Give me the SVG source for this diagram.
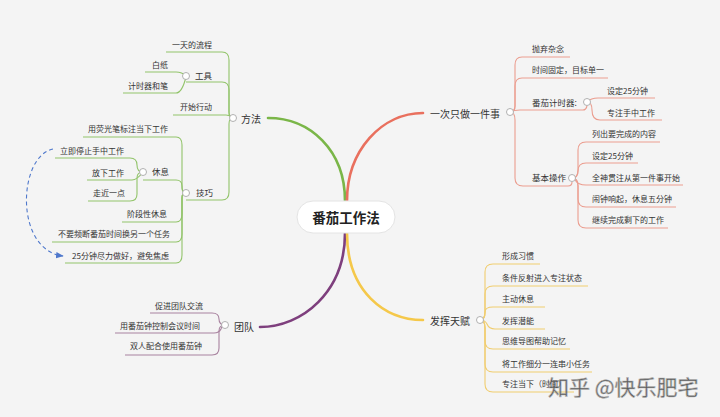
<svg xmlns="http://www.w3.org/2000/svg" width="720" height="417" viewBox="0 0 720 417">
<defs>
<style>
text{font-family:"Noto Sans CJK SC","Noto Sans",sans-serif;fill:#333;}
.t{font-size:8px;dominant-baseline:central;}
.t2{font-size:8.5px;dominant-baseline:central;}
.m{font-size:10px;dominant-baseline:central;}
.c{font-size:13.5px;font-weight:bold;dominant-baseline:central;text-anchor:middle;fill:#222;}
.g,.r,.y,.p{fill:none;stroke-width:1.1;}
.g{stroke:#92c46a;}
.r{stroke:#eb9d8f;}
.y{stroke:#f0cd6f;}
.p{stroke:#a8829f;}
.main{fill:none;stroke-width:2.6;stroke-linecap:round;}
.k{fill:#fff;stroke:#a8a8a8;stroke-width:0.9;}
</style>
<marker id="ah" viewBox="0 0 10 10" refX="9" refY="5" markerWidth="7" markerHeight="7" orient="auto">
<path d="M0 1 L10 5 L0 9 Z" fill="#4f78cc"/>
</marker>
</defs>
<rect width="720" height="417" fill="#f4f4f4"/>

<g id="connectors">
<path class="main" stroke="#7ab648" d="M345 201 C345 150 310 118 268 118"/>
<path class="main" stroke="#e9705e" d="M347 201 C347 150 382 113 423 113"/>
<path class="main" stroke="#7e3f7d" d="M345 233 C345 292 302 327 260 327"/>
<path class="main" stroke="#f5c84a" d="M347 233 C347 292 385 320 423 320"/>

<path class="g" d="M166 52 H222 Q229 52 229 60 V112 Q229 118 233 118"/>
<path class="g" d="M186 82 H222 Q229 82 229 90 V112 Q229 118 233 118"/>
<path class="g" d="M145 72 H176 Q182 72 186 76"/>
<path class="g" d="M123 93 H176 Q182 93 186 77"/>
<path class="g" d="M173 115 H226 Q230 115 233 118"/>
<path class="g" d="M186 200 H222 Q229 200 229 192 V124 Q229 118 233 118"/>
<path class="g" d="M83 137 H176 Q182 137 182 145 V188 Q182 193 186 193"/>
<path class="g" d="M143 180 H176 Q182 180 182 186 Q182 193 186 193"/>
<path class="g" d="M55 158 H130 Q137 158 137 165 Q137 172 143 172"/>
<path class="g" d="M87 180 H132 Q137 180 143 172"/>
<path class="g" d="M88 201 H130 Q137 201 137 194 V178 Q137 172 143 172"/>
<path class="g" d="M122 222 H176 Q182 222 182 214 V198 Q182 193 186 193"/>
<path class="g" d="M52 242 H176 Q182 242 182 234 V198 Q182 193 186 193"/>
<path class="g" d="M65 263 H176 Q182 263 182 255 V198 Q182 193 186 193"/>
<path fill="none" stroke="#4f78cc" stroke-width="1.1" stroke-dasharray="4 3" marker-end="url(#ah)" d="M53 149 C18 156 14 250 63 256"/>

<path class="r" d="M510 112 Q515 112 515 106 V65 Q515 57 522 57 H570"/>
<path class="r" d="M510 112 Q515 112 515 106 V86 Q515 78 522 78 H608"/>
<path class="r" d="M510 112 Q514 110 520 110 H583 Q586 110 587 106"/>
<path class="r" d="M587 102 Q591 98 598 98 H655"/>
<path class="r" d="M587 102 Q592 102 592 110 Q592 120 600 120 H662"/>
<path class="r" d="M510 112 Q515 112 515 120 V178 Q515 186 523 186 H568 Q572 186 572 182"/>
<path class="r" d="M572 178 Q578 178 578 170 V150 Q578 142 586 142 H660"/>
<path class="r" d="M572 178 Q578 178 578 171 Q578 163 586 163 H638"/>
<path class="r" d="M575 180 Q578 185 586 185 H683"/>
<path class="r" d="M572 178 Q578 178 578 186 V199 Q578 207 586 207 H676"/>
<path class="r" d="M572 178 Q578 178 578 186 V220 Q578 228 586 228 H668"/>

<path class="y" d="M480 320 Q485 320 485 312 V272 Q485 264 493 264 H540"/>
<path class="y" d="M480 320 Q485 320 485 312 V294 Q485 286 493 286 H588"/>
<path class="y" d="M480 320 Q485 320 485 312 Q485 307 493 307 H545"/>
<path class="y" d="M480 320 Q485 320 487 324 Q489 329 495 329 H545"/>
<path class="y" d="M480 320 Q485 320 485 328 V341 Q485 349 493 349 H570"/>
<path class="y" d="M480 320 Q485 320 485 328 V364 Q485 372 493 372 H592"/>
<path class="y" d="M480 320 Q485 320 485 328 V384 Q485 392 493 392 H574"/>

<path class="p" d="M150 313 H212 Q219 313 219 319 Q219 325 225 325"/>
<path class="p" d="M115 333 H214 Q219 333 221 329 Q222 325 225 325"/>
<path class="p" d="M125 355 H212 Q219 355 219 348 V331 Q219 325 225 325"/>
</g>

<g id="center">
<rect x="297" y="201" width="98" height="32" rx="16" fill="#fff" stroke="#e4e4e4"/>
<text class="c" x="346" y="217">番茄工作法</text>
</g>

<g id="fangfa">
<text class="m" x="241" y="118">方法</text>
<circle class="k" cx="233" cy="118" r="3.5"/>
</g>
<g id="n-liucheng"><text class="t" x="172" y="44">一天的流程</text></g>
<g id="n-gongju"><text class="t2" x="195" y="75">工具</text><circle class="k" cx="186" cy="76" r="3.5"/></g>
<g id="n-baizhi"><text class="t" x="152" y="64">白纸</text></g>
<g id="n-jishiqi"><text class="t" x="128" y="85">计时器和笔</text></g>
<g id="n-kaishi"><text class="t" x="180" y="106">开始行动</text></g>
<g id="n-jiqiao"><text class="t2" x="196" y="192">技巧</text><circle class="k" cx="186" cy="193" r="3.5"/></g>
<g id="n-yingguang"><text class="t" x="88" y="128">用荧光笔标注当下工作</text></g>
<g id="n-xiuxi"><text class="t2" x="152" y="171">休息</text><circle class="k" cx="143" cy="172" r="3.5"/></g>
<g id="n-liji"><text class="t" x="60" y="150">立即停止手中工作</text></g>
<g id="n-fangxia"><text class="t" x="92" y="172">放下工作</text></g>
<g id="n-zoujin"><text class="t" x="93" y="192">走近一点</text></g>
<g id="n-jieduan"><text class="t" x="127" y="213">阶段性休息</text></g>
<g id="n-buyao"><text class="t" x="58" y="233">不要频断番茄时间换另一个任务</text></g>
<g id="n-25fen"><text class="t" x="72" y="255">25分钟尽力做好，避免焦虑</text></g>

<g id="yici">
<text class="m" x="430" y="113">一次只做一件事</text>
<circle class="k" cx="510" cy="112" r="3.5"/>
</g>
<g id="n-paoqi"><text class="t" x="532" y="48">抛弃杂念</text></g>
<g id="n-shijian"><text class="t" x="532" y="69">时间固定，目标单一</text></g>
<g id="n-fanqie"><text class="t2" x="532" y="102">番茄计时器:</text><circle class="k" cx="587" cy="102" r="3.5"/></g>
<g id="n-sheding1"><text class="t" x="607" y="90">设定25分钟</text></g>
<g id="n-zhuanzhu"><text class="t" x="607" y="112">专注手中工作</text></g>
<g id="n-jiben"><text class="t2" x="532" y="177">基本操作</text><circle class="k" cx="572" cy="178" r="3.5"/></g>
<g id="n-liechu"><text class="t" x="592" y="133">列出要完成的内容</text></g>
<g id="n-sheding2"><text class="t" x="592" y="155">设定25分钟</text></g>
<g id="n-quanshen"><text class="t" x="592" y="177">全神贯注从第一件事开始</text></g>
<g id="n-naozhong"><text class="t" x="592" y="198">闹钟响起，休息五分钟</text></g>
<g id="n-jixu"><text class="t" x="592" y="219">继续完成剩下的工作</text></g>

<g id="fahui">
<text class="m" x="430" y="320">发挥天赋</text>
<circle class="k" cx="480" cy="320" r="3.5"/>
</g>
<g id="n-xingcheng"><text class="t" x="502" y="255">形成习惯</text></g>
<g id="n-tiaojian"><text class="t" x="502" y="277">条件反射进入专注状态</text></g>
<g id="n-zhudong"><text class="t" x="502" y="298">主动休息</text></g>
<g id="n-qianneng"><text class="t" x="502" y="320">发挥潜能</text></g>
<g id="n-siwei"><text class="t" x="502" y="340">思维导图帮助记忆</text></g>
<g id="n-xifen"><text class="t" x="502" y="363">将工作细分一连串小任务</text></g>
<g id="n-dangxia"><text class="t" x="502" y="383">专注当下（时间）</text></g>

<g id="tuandui">
<text class="m" x="234" y="326">团队</text>
<circle class="k" cx="225" cy="325" r="3.5"/>
</g>
<g id="n-cujin"><text class="t" x="155" y="305">促进团队交流</text></g>
<g id="n-huiyi"><text class="t" x="120" y="325">用番茄钟控制会议时间</text></g>
<g id="n-shuangren"><text class="t" x="130" y="345">双人配合使用番茄钟</text></g>

<text x="548" y="395" font-size="21" fill="#f2f2f2" stroke="#a8a8a8" stroke-width="0.6" opacity="0.8">知乎 @快乐肥宅</text>
</svg>
